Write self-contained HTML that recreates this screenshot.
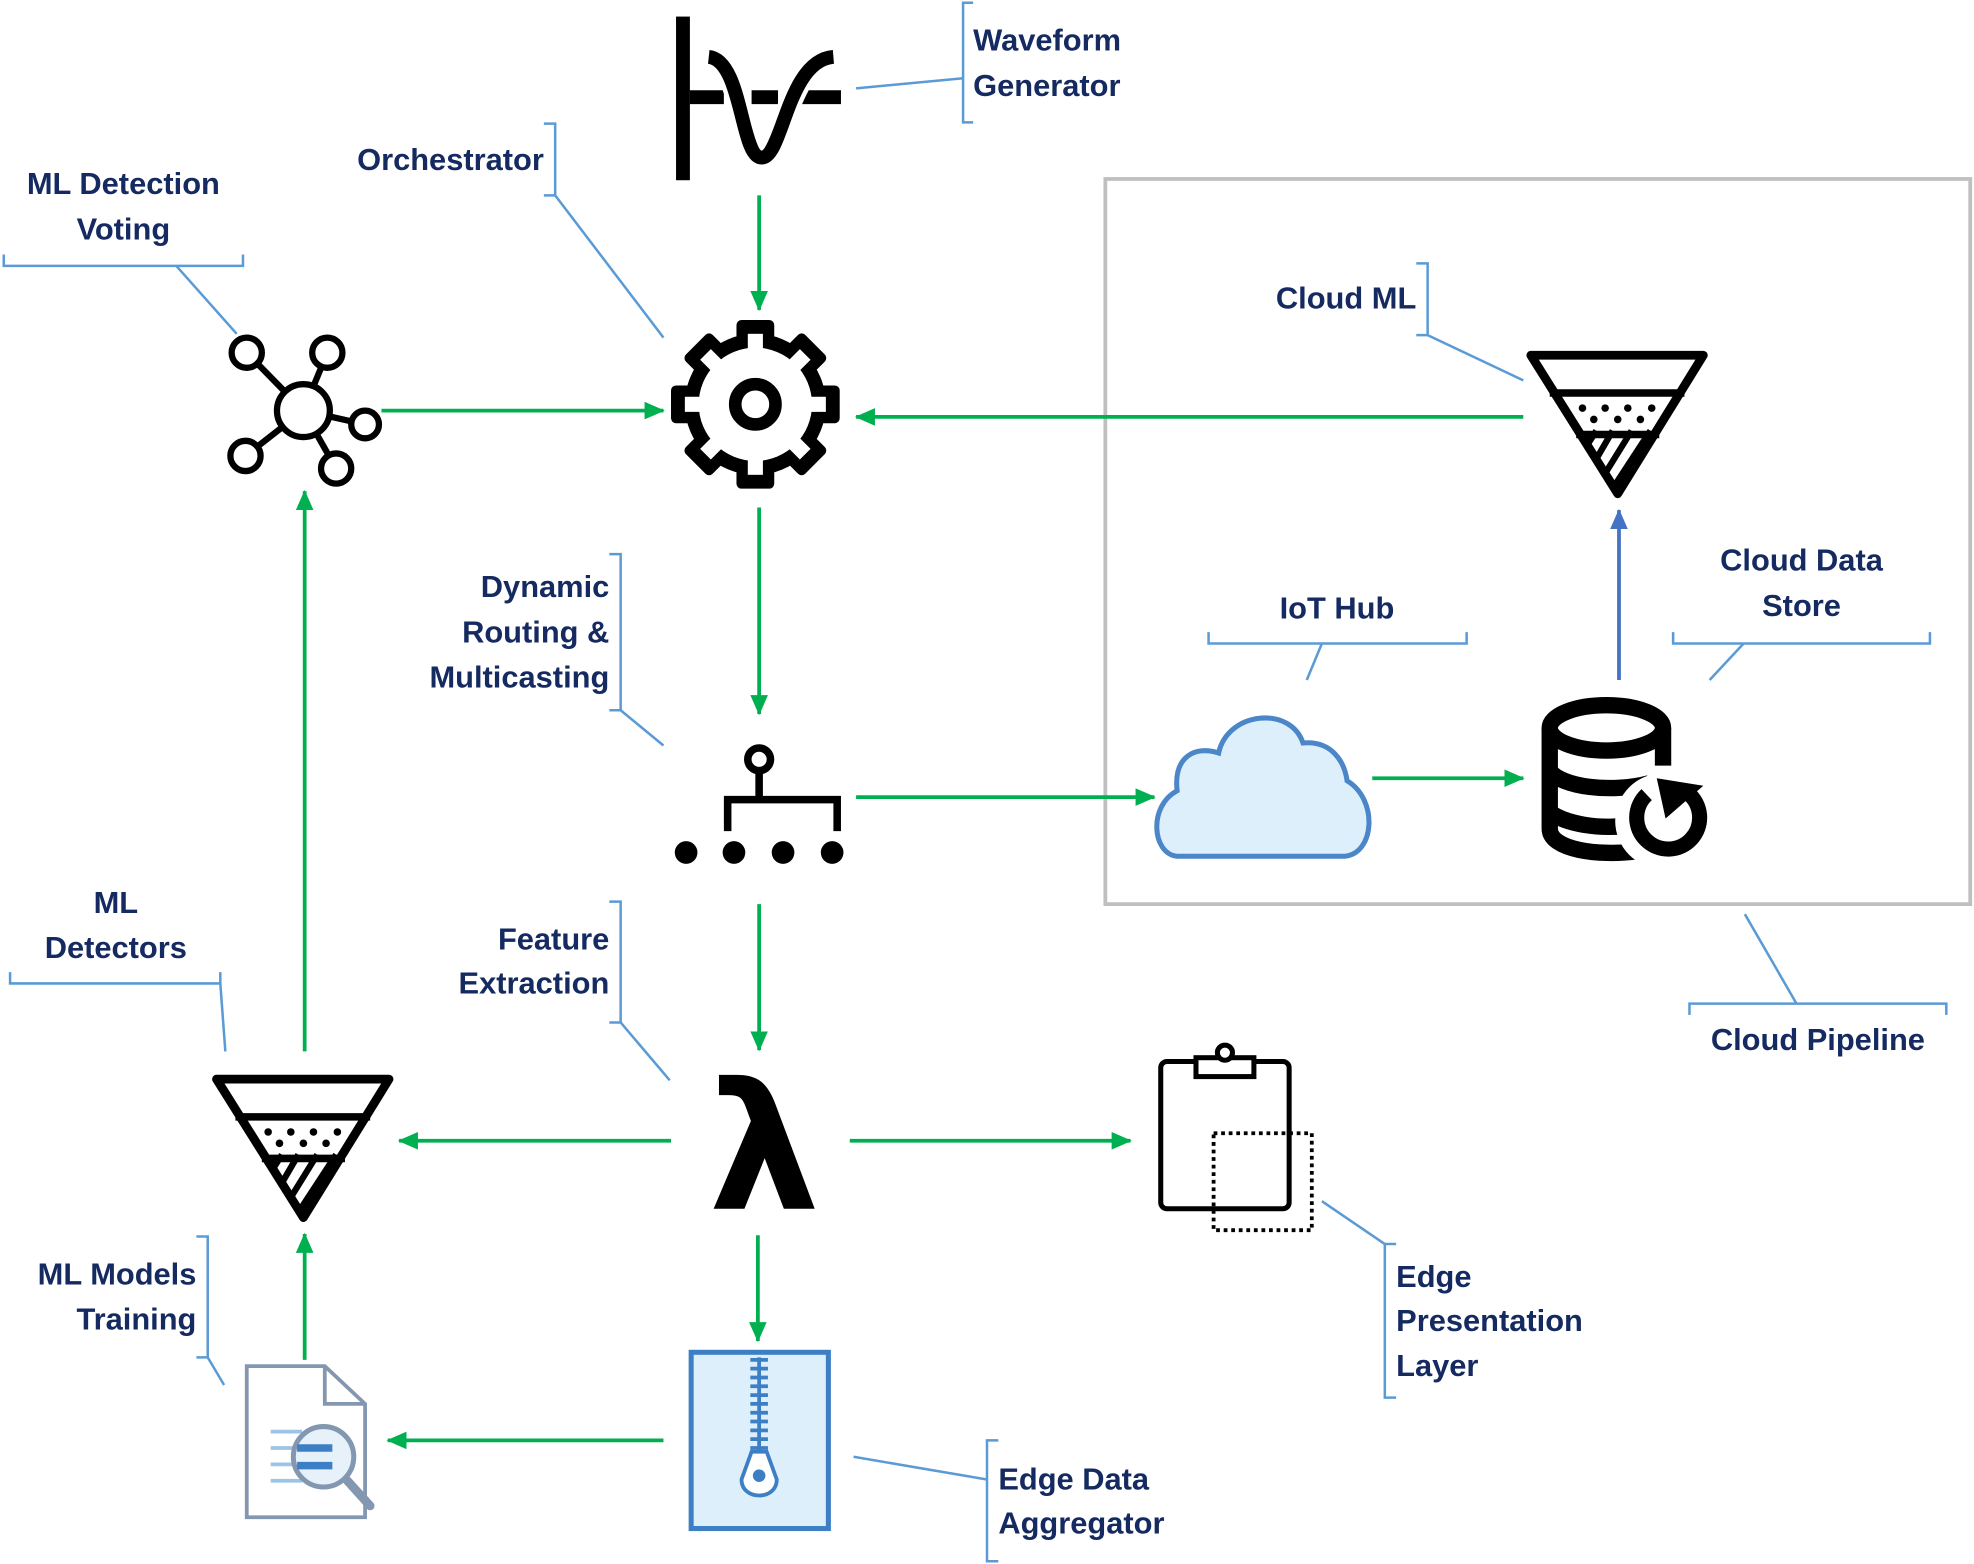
<!DOCTYPE html>
<html><head><meta charset="utf-8"><style>
html,body{margin:0;padding:0;background:#fff}
svg{display:block}
text{font-family:"Liberation Sans",sans-serif;font-weight:bold;font-size:24.5px;fill:#142a60}
</style></head><body>
<svg width="1974" height="1564" viewBox="0 0 1568 1242" xmlns="http://www.w3.org/2000/svg">
<defs>
<marker id="ag" markerWidth="16" markerHeight="14" refX="15" refY="7" orient="auto" markerUnits="userSpaceOnUse" viewBox="0 0 16 14"><path d="M0,0 L16,7 L0,14 Z" fill="#00b050"/></marker>
<marker id="ab" markerWidth="16" markerHeight="14" refX="15" refY="7" orient="auto" markerUnits="userSpaceOnUse" viewBox="0 0 16 14"><path d="M0,0 L16,7 L0,14 Z" fill="#4472c4"/></marker>
<clipPath id="fc"><path d="M0,0 L137,0 L69,110 Z"/></clipPath>
<g id="funnel">
  <g clip-path="url(#fc)" stroke="#000" stroke-width="5">
    <line x1="20" y1="110" x2="52" y2="60"/><line x1="33" y1="115" x2="65" y2="60"/>
    <line x1="46" y1="115" x2="80" y2="60"/><line x1="59" y1="115" x2="95" y2="60"/>
  </g>
  <path d="M0,0 L137,0 L69,110 Z" fill="none" stroke="#000" stroke-width="7" stroke-linejoin="round"/>
  <line x1="15" y1="30" x2="122" y2="30" stroke="#000" stroke-width="6"/>
  <line x1="36" y1="63" x2="102" y2="63" stroke="#000" stroke-width="6"/>
  <g fill="#000"><circle cx="41" cy="42" r="3"/><circle cx="59" cy="42" r="3"/><circle cx="77" cy="42" r="3"/><circle cx="96" cy="42" r="3"/>
  <circle cx="50" cy="51" r="3"/><circle cx="69" cy="51" r="3"/><circle cx="87" cy="51" r="3"/></g>
</g>
</defs>

<rect x="878" y="142" width="687" height="576" fill="none" stroke="#bfbfbf" stroke-width="3"/>

<g stroke="#00b050" stroke-width="3" fill="none" marker-end="url(#ag)">
<line x1="603" y1="155" x2="603" y2="246"/>
<line x1="303" y1="326" x2="527" y2="326"/>
<line x1="1210" y1="331" x2="680" y2="331"/>
<line x1="603" y1="403" x2="603" y2="567"/>
<line x1="680" y1="633" x2="917" y2="633"/>
<line x1="1090" y1="618" x2="1210" y2="618"/>
<line x1="603" y1="718" x2="603" y2="834"/>
<line x1="533" y1="906" x2="317" y2="906"/>
<line x1="675" y1="906" x2="898" y2="906"/>
<line x1="602" y1="981" x2="602" y2="1065"/>
<line x1="527" y1="1144" x2="308" y2="1144"/>
<line x1="242" y1="1080" x2="242" y2="980"/>
<line x1="242" y1="835" x2="242" y2="390"/>
</g>
<line x1="1286" y1="540" x2="1286" y2="405" stroke="#4472c4" stroke-width="3" marker-end="url(#ab)"/>

<g stroke="#5b9bd5" stroke-width="2" fill="none">
<path d="M773,2 H765 V97 H773"/><line x1="680" y1="70" x2="765" y2="62"/>
<path d="M432,98 H441 V155 H432"/><line x1="441" y1="155" x2="527" y2="268"/>
<path d="M3,202 V211 H193 V202"/><line x1="140" y1="211" x2="188" y2="265"/>
<path d="M1125,209 H1134 V266 H1125"/><line x1="1134" y1="266" x2="1210" y2="302"/>
<path d="M484,440 H493 V564 H484"/><line x1="493" y1="564" x2="527" y2="592"/>
<path d="M960,502 V511 H1165 V502"/><line x1="1050" y1="511" x2="1038" y2="540"/>
<path d="M1329,502 V511 H1533 V502"/><line x1="1385" y1="511" x2="1358" y2="540"/>
<path d="M1342,806 V797 H1546 V806"/><line x1="1386" y1="726" x2="1427" y2="797"/>
<path d="M8,772 V781 H175 V772"/><line x1="175" y1="781" x2="179" y2="835"/>
<path d="M484,716 H493 V812 H484"/><line x1="493" y1="812" x2="532" y2="858"/>
<path d="M1109,988 H1100 V1110 H1109"/><line x1="1050" y1="954" x2="1100" y2="988"/>
<path d="M156,982 H165 V1078 H156"/><line x1="165" y1="1078" x2="178" y2="1100"/>
<path d="M793,1144 H784 V1240 H793"/><line x1="678" y1="1157" x2="784" y2="1175"/>
</g>

<text x="773" y="40">Waveform</text><text x="773" y="76">Generator</text>
<text x="432" y="135" text-anchor="end">Orchestrator</text>
<text x="98" y="154" text-anchor="middle">ML Detection</text><text x="98" y="190" text-anchor="middle">Voting</text>
<text x="1125" y="245" text-anchor="end">Cloud ML</text>
<text x="484" y="474" text-anchor="end">Dynamic</text><text x="484" y="510" text-anchor="end">Routing &amp;</text><text x="484" y="546" text-anchor="end">Multicasting</text>
<text x="1062" y="491" text-anchor="middle">IoT Hub</text>
<text x="1431" y="453" text-anchor="middle">Cloud Data</text><text x="1431" y="489" text-anchor="middle">Store</text>
<text x="1444" y="834" text-anchor="middle">Cloud Pipeline</text>
<text x="92" y="725" text-anchor="middle">ML</text><text x="92" y="761" text-anchor="middle">Detectors</text>
<text x="484" y="754" text-anchor="end">Feature</text><text x="484" y="789" text-anchor="end">Extraction</text>
<text x="1109" y="1022">Edge</text><text x="1109" y="1057">Presentation</text><text x="1109" y="1093">Layer</text>
<text x="156" y="1020" text-anchor="end">ML Models</text><text x="156" y="1056" text-anchor="end">Training</text>
<text x="793" y="1183">Edge Data</text><text x="793" y="1218">Aggregator</text>

<rect x="537" y="13" width="11" height="130" fill="#000"/>
<g stroke="#000" stroke-width="11" fill="none">
<line x1="548" y1="77" x2="575" y2="77"/><line x1="597" y1="77" x2="618" y2="77"/><line x1="633" y1="77" x2="668" y2="77"/>
</g>
<path d="M563,45 C590,48 588,125 605,125 C622,125 625,48 662,45" stroke="#fff" stroke-width="18" fill="none"/>
<path d="M563,45 C590,48 588,125 605,125 C622,125 625,48 662,45" stroke="#000" stroke-width="11" fill="none"/>

<g transform="translate(600,321)">
<g fill="#000">
<circle r="56"/>
<rect x="-15" y="-67" width="30" height="134" rx="4"/>
<rect x="-15" y="-67" width="30" height="134" rx="4" transform="rotate(45)"/>
<rect x="-15" y="-67" width="30" height="134" rx="4" transform="rotate(90)"/>
<rect x="-15" y="-67" width="30" height="134" rx="4" transform="rotate(135)"/>
</g>
<g fill="#fff">
<circle r="45"/>
<rect x="-6" y="-56" width="12" height="112"/>
<rect x="-6" y="-56" width="12" height="112" transform="rotate(45)"/>
<rect x="-6" y="-56" width="12" height="112" transform="rotate(90)"/>
<rect x="-6" y="-56" width="12" height="112" transform="rotate(135)"/>
</g>
<circle r="16" fill="none" stroke="#000" stroke-width="10"/>
</g>

<g stroke="#000" stroke-width="5" fill="#fff">
<line x1="241" y1="326" x2="196" y2="280"/><line x1="241" y1="326" x2="260" y2="280"/>
<line x1="241" y1="326" x2="290" y2="337"/><line x1="241" y1="326" x2="267" y2="372"/>
<line x1="241" y1="326" x2="195" y2="362"/>
<circle cx="241" cy="326" r="21"/>
<circle cx="196" cy="280" r="12"/><circle cx="260" cy="280" r="12"/><circle cx="290" cy="337" r="11"/>
<circle cx="267" cy="372" r="12"/><circle cx="195" cy="362" r="12"/>
</g>

<g stroke="#000" stroke-width="6" fill="none">
<circle cx="603" cy="603" r="9"/>
<path d="M603,612 V635 M578,660 V635 H665 V660"/>
</g>
<g fill="#000"><circle cx="545" cy="677" r="9"/><circle cx="583" cy="677" r="9"/><circle cx="622" cy="677" r="9"/><circle cx="661" cy="677" r="9"/></g>

<path d="M935,680 C915,678 912,640 935,628 C932,600 950,592 968,598 C975,565 1025,560 1035,590 C1058,588 1068,605 1070,620 C1095,635 1092,678 1068,680 Z" fill="#deeffc" stroke="#4a86c8" stroke-width="4"/>

<g stroke="#000" stroke-width="13" fill="none">
<ellipse cx="1276" cy="578" rx="45" ry="18"/>
<path d="M1231,578 V658 C1231,675 1270,680 1300,676"/>
<path d="M1321,578 V608"/>
<path d="M1231,612 C1240,625 1280,630 1310,622"/>
<path d="M1231,645 C1245,655 1270,658 1290,656"/>
</g>
<circle cx="1321" cy="652" r="38" fill="#fff"/>
<path d="M1341,630 A25,25 0 1 1 1308,631" stroke="#000" stroke-width="12" fill="none"/>
<path d="M1316,618 L1353,624 L1323,650 Z" fill="#000"/>

<use href="#funnel" transform="translate(1216,282)"/>
<use href="#funnel" transform="translate(172,857)"/>

<text x="607" y="960" text-anchor="middle" style="font-family:'DejaVu Sans',sans-serif;font-size:140px;fill:#000;font-weight:bold">λ</text>

<rect x="922" y="843" width="102" height="117" rx="5" fill="none" stroke="#000" stroke-width="4"/>
<rect x="950" y="840" width="46" height="15" fill="#fff" stroke="#000" stroke-width="4"/>
<circle cx="973" cy="836" r="6" fill="#fff" stroke="#000" stroke-width="4"/>
<rect x="964" y="900" width="78" height="77" fill="none" stroke="#000" stroke-width="3" stroke-dasharray="3,3"/>

<rect x="549" y="1074" width="109" height="140" fill="#deeffc" stroke="#3d7fc4" stroke-width="4"/>
<g stroke="#3d7fc4" stroke-width="3">
<line x1="596" y1="1080" x2="610" y2="1080"/><line x1="596" y1="1087" x2="610" y2="1087"/><line x1="596" y1="1094" x2="610" y2="1094"/>
<line x1="596" y1="1101" x2="610" y2="1101"/><line x1="596" y1="1108" x2="610" y2="1108"/><line x1="596" y1="1115" x2="610" y2="1115"/>
<line x1="596" y1="1122" x2="610" y2="1122"/><line x1="596" y1="1129" x2="610" y2="1129"/><line x1="596" y1="1136" x2="610" y2="1136"/>
<line x1="596" y1="1143" x2="610" y2="1143"/><line x1="596" y1="1150" x2="610" y2="1150"/>
<line x1="603" y1="1078" x2="603" y2="1155"/>
</g>
<path d="M597,1153 H609 L617,1175 C617,1192 589,1192 589,1175 Z" fill="#fff" stroke="#3d7fc4" stroke-width="3"/>
<circle cx="603" cy="1172" r="5" fill="#3d7fc4"/>

<path d="M196,1085 H258 L290,1115 V1205 H196 Z" fill="#fff" stroke="#8497b0" stroke-width="3"/>
<path d="M258,1085 V1115 H290" fill="none" stroke="#8497b0" stroke-width="3"/>
<g stroke="#9dc3e6" stroke-width="3"><line x1="215" y1="1137" x2="240" y2="1137"/><line x1="215" y1="1150" x2="235" y2="1150"/><line x1="215" y1="1163" x2="235" y2="1163"/><line x1="215" y1="1176" x2="240" y2="1176"/></g>
<line x1="275" y1="1175" x2="294" y2="1196" stroke="#8497b0" stroke-width="7" stroke-linecap="round"/>
<circle cx="257" cy="1157" r="24" fill="#e7f1fa" stroke="#8497b0" stroke-width="4"/>
<g stroke="#3d7fc4" stroke-width="6"><line x1="236" y1="1150" x2="264" y2="1150"/><line x1="236" y1="1164" x2="264" y2="1164"/></g>
</svg>
</body></html>
